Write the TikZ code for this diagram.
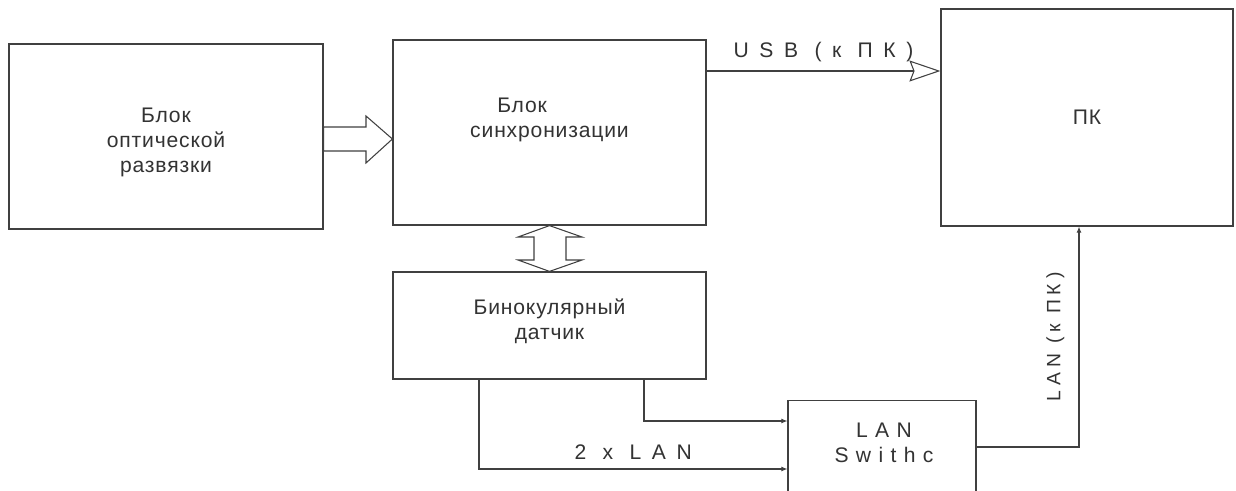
\documentclass[tikz,border=0pt]{standalone}
\usepackage{fontspec}
\setmainfont{Liberation Sans}
\usetikzlibrary{arrows.meta}
\begin{document}
\begin{tikzpicture}[
  x=0.02cm,y=-0.02cm,
  font=\fontsize{12}{14.2}\selectfont\addfontfeature{LetterSpace=4},
  every node/.style={text=black!80},
  block/.style={draw=black!75,line width=0.7pt,align=center,inner sep=0pt},
  fat/.style={draw=black!75,line width=0.6pt,fill=white},
  usbline/.style={draw=black!75,line width=0.6pt,
    -{Stealth[open,length=0.62cm,width=0.42cm,inset=0.08cm]}},
  lanline/.style={draw=black!75,line width=0.6pt,
    -{Latex[length=0.12cm,width=0.1cm]}},
  lab/.style={font=\fontsize{12}{14}\selectfont\addfontfeature{LetterSpace=50}},
  vlab/.style={font=\fontsize{11}{15}\selectfont\addfontfeature{LetterSpace=25}},
  txt/.style={align=center}
]
\clip (0,0) rectangle (1236,490);
\fill[white] (0,0) rectangle (1236,490);
\node[block,minimum width=6.28cm,minimum height=3.70cm] (opto) at (166,136.5) {};
\node[block,minimum width=6.26cm,minimum height=3.70cm] (sync) at (549.5,132.5) {};
\node[block,minimum width=5.84cm,minimum height=4.34cm] (pc) at (1087,117.5) {ПК};
\node[block,minimum width=6.26cm,minimum height=2.14cm] (sensor) at (549.5,325.5) {};
\node[block,minimum width=3.76cm,minimum height=2.4cm,anchor=north] (switch) at (882,400) {};
% texts inside the blocks
\node[txt] (optotext) at (166,142) {Блок\\оптической\\развязки};
\node[txt] (synctext) at (549.5,120) {Блок\hspace*{2.6em}\\синхронизации};
\node[txt] (sensortext) at (549.5,321) {Бинокулярный\\датчик};
\node[txt,font=\fontsize{12}{14}\selectfont\addfontfeature{LetterSpace=35}] (switchtext)
  at (884,443) {LAN\\Swithc};
% block arrows
\draw[fat] (opto.east |- 0,127) -- (366,127) -- (366,116) -- (sync.west |- 0,139)
  -- (366,163) -- (366,151) -- (opto.east |- 0,151) -- cycle;
\draw[fat] (sync.south) -- (582,237) -- (566,237) -- (566,260) -- (582,260)
  -- (sensor.north) -- (518,260) -- (534,260) -- (534,237) -- (518,237) -- cycle;
% links
\draw[usbline] (sync.east |- 0,71) -- node[lab,above,inner sep=5pt] {USB (к ПК)} (pc.west |- 0,71);
\draw[lanline] (sensor.south -| 644,0) |- (switch.west |- 0,421);
\draw[lanline] (sensor.south -| 479,0) |- node[lab,pos=.75,above,inner sep=5pt] {2 x LAN}
  (switch.west |- 0,469);
\draw[lanline] (switch.east |- 0,447) -| node[vlab,pos=.75,rotate=90,anchor=south,inner sep=8pt]
  {LAN (к ПК)} (pc.south -| 1079,0);
\end{tikzpicture}
\end{document}
